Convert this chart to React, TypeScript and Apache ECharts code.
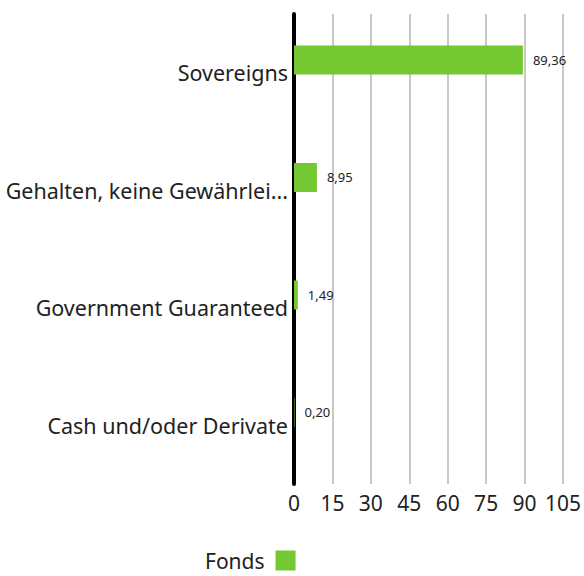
import React, { useEffect, useRef } from "react";
import * as echarts from "echarts";

const categories = [
  "Sovereigns",
  "Gehalten, keine Gewährleistung",
  "Government Guaranteed",
  "Cash und/oder Derivate",
];
const fondsValues = [89.36, 8.95, 1.49, 0.2];
const xTicks = { min: 0, max: 105, interval: 15 };

export default function App() {
  const ref = useRef<HTMLDivElement>(null);
  useEffect(() => {
    document.body.style.margin = "0";
    const chart = echarts.init(ref.current!, null, { renderer: "svg" });
    const font = "'Noto Sans', sans-serif";
    chart.setOption({
      animation: false,
      textStyle: { fontFamily: font },
      grid: { left: 294, right: 19, top: 14, bottom: 92, containLabel: false },
      legend: {
        bottom: 0,
        left: 200,
        align: "right",
        itemWidth: 20,
        itemHeight: 20,
        itemGap: 6,
        icon: "rect",
        data: ["Fonds"],
        textStyle: { fontSize: 21, color: "#222", fontFamily: font, padding: [0, 6, 0, 0] },
      },
      xAxis: {
        type: "value",
        min: xTicks.min,
        max: xTicks.max,
        interval: xTicks.interval,
        axisLine: { show: false },
        axisTick: { show: false },
        splitLine: { show: true, lineStyle: { color: "#c8c8c8", width: 2 } },
        axisLabel: { fontSize: 21, color: "#222", margin: 8, fontFamily: font },
      },
      yAxis: {
        type: "category",
        inverse: true,
        data: categories,
        axisLine: { show: true, lineStyle: { color: "#000", width: 4 } },
        axisTick: { show: false },
        axisLabel: {
          fontSize: 21.5,
          color: "#222",
          margin: 6,
          width: 292,
          overflow: "truncate",
          fontFamily: font,
        },
      },
      series: [
        {
          name: "Fonds",
          type: "bar",
          data: fondsValues,
          barWidth: 29,
          barGap: "-12%",
          itemStyle: { color: "#74c932" },
          label: {
            show: true,
            position: "right",
            distance: 10,
            fontSize: 13,
            color: "#222",
            fontFamily: font,
            formatter: (p: any) => Number(p.value).toFixed(2).replace(".", ","),
          },
        },
        {
          name: "Benchmark",
          type: "bar",
          data: fondsValues.map(() => null),
          barWidth: 29,
          itemStyle: { color: "#cccccc" },
        },
      ],
    });
    return () => chart.dispose();
  }, []);
  return <div ref={ref} style={{ width: 584, height: 576 }} />;
}
